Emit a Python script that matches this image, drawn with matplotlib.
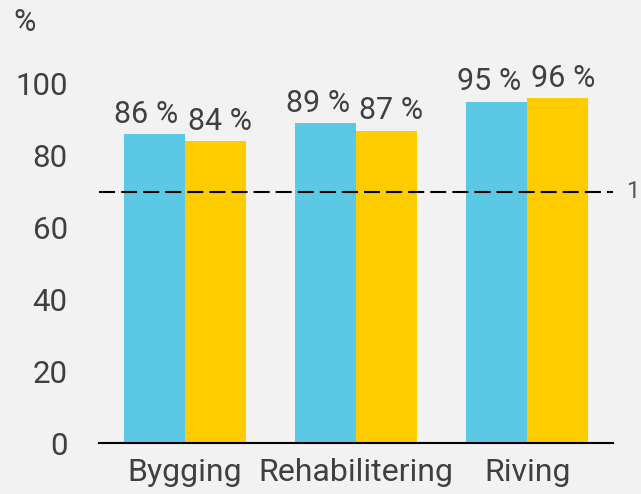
import matplotlib.pyplot as plt
import numpy as np

plt.rcParams['font.family'] = ['Roboto', 'DejaVu Sans']

categories = ['Bygging', 'Rehabilitering', 'Riving']
series_a = [86, 89, 95]
series_b = [84, 87, 96]
target = 70
yticks = [0, 20, 40, 60, 80, 100]

blue = '#5bc8e6'
yellow = '#ffcc00'
grey = '#404040'
bg = '#f2f2f2'

fig = plt.figure(figsize=(6.41, 4.94), dpi=100, facecolor=bg)
ax = fig.add_axes([0.1544, 0.1032, 0.8016, 0.7268], facecolor=bg)

x = np.arange(len(categories))
w = 0.356
ax.bar(x - w / 2, series_a, w, color=blue)
ax.bar(x + w / 2, series_b, w, color=yellow)

# labels sit a little outward from the bar centres
for xi, v in zip(x - w / 2, series_a):
    ax.text(xi - 0.045, v + 1.6, f'{v} %', ha='center', va='bottom', fontsize=22, color=grey)
for xi, v in zip(x + w / 2, series_b):
    ax.text(xi + 0.03, v + 1.6, f'{v} %', ha='center', va='bottom', fontsize=22, color=grey)

ax.axhline(target, color='black', lw=1.5, ls=(0, (7.7, 2.9)))
ax.text(1.026, target, '1', transform=ax.get_yaxis_transform(), ha='left', va='center',
        fontsize=17, color='#555555', clip_on=False)

ax.set_xlim(-0.5, 2.5)
ax.set_ylim(0, 100)
ax.set_yticks(yticks)
ax.set_xticks(x)
ax.set_xticklabels(categories)
ax.tick_params(axis='y', length=0, labelsize=22.5, labelcolor=grey, pad=22.5)
ax.tick_params(axis='x', length=0, labelsize=23, labelcolor=grey, pad=11)
for s in ['top', 'right', 'left']:
    ax.spines[s].set_visible(False)
ax.spines['bottom'].set_linewidth(1.5)
ax.spines['bottom'].set_color('black')

fig.text(0.021, 0.955, '%', fontsize=22, color=grey, va='center', ha='left')

fig.savefig('out.png', dpi=100, facecolor=bg)
